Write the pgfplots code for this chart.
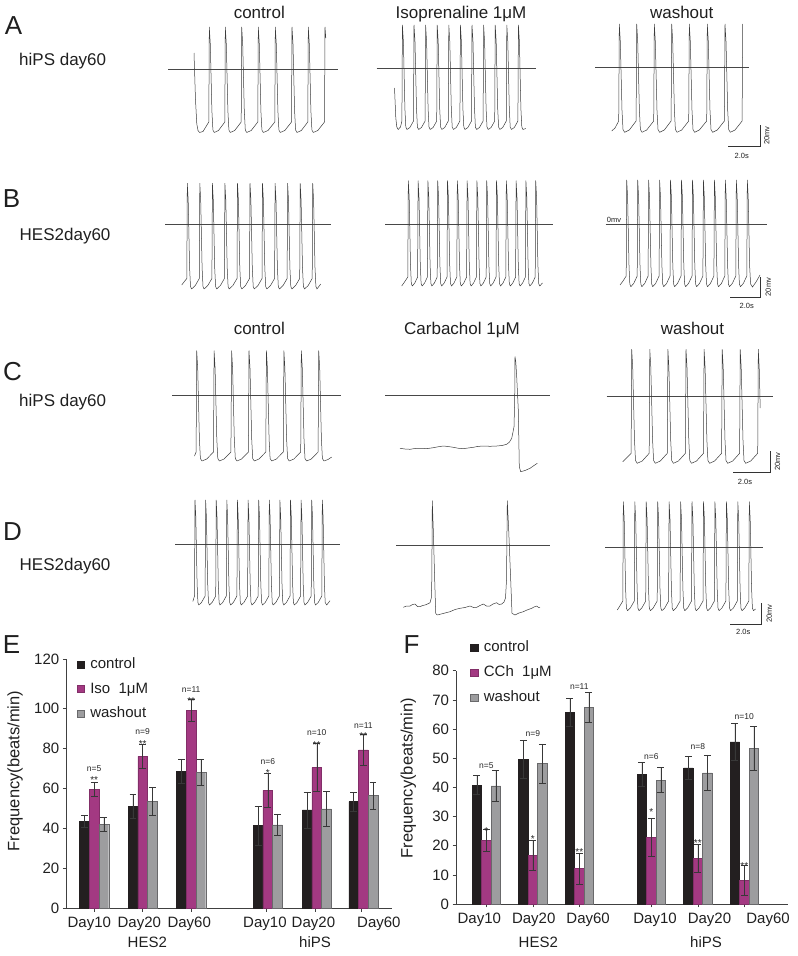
\documentclass[border=0pt]{standalone}
\usepackage{pgfplots}
\pgfplotsset{compat=1.18}
\usepackage{pgfplotstable}
\usepackage{fontspec}
\setmainfont{Liberation Sans}
\definecolor{cblack}{RGB}{35,31,32}
\definecolor{cmag}{RGB}{163,57,130}
\definecolor{cgrey}{RGB}{157,157,159}
\definecolor{cedge}{RGB}{105,105,107}
\definecolor{ctrace}{RGB}{60,60,60}
\newcommand{\fTitle}{\fontsize{17}{20}\selectfont}
\newcommand{\fPanel}{\fontsize{26}{30}\selectfont}
\newcommand{\fTick}{\fontsize{15}{18}\selectfont}
\newcommand{\fSmall}{\fontsize{7.5}{9}\selectfont}
\newcommand{\fN}{\fontsize{8.5}{10}\selectfont}
\newcommand{\fA}{\fontsize{10}{11}\selectfont}
\pgfplotstableread{
x y e
0 43.5 3
1 51 5.8
2 68.5 5.8
3.58 41.3 9.8
4.59 49.2 9
5.55 53.3 4.8
}\Econtrol
\pgfplotstableread{
x y e
0 59.5 3.5
1 76 6
2 99 5.4
3.58 59 8.7
4.59 70.3 12
5.55 79.2 7.7
}\Eiso
\pgfplotstableread{
x y e
0 42 3.3
1 53.5 7
2 68 6.5
3.58 41.7 5.4
4.59 49.7 8.8
5.55 56.3 6.9
}\Ewash
\pgfplotstableread{
x y e
0 40.8 3.2
1 49.7 6.5
2 65.8 4.7
3.55 44.5 4
4.55 46.7 4
5.55 55.6 6.3
}\Fcontrol
\pgfplotstableread{
x y e
0 21.9 3.7
1 16.6 5.1
2 12.2 5.3
3.55 22.9 6.4
4.55 15.7 4.9
5.55 8.2 5.1
}\Fcch
\pgfplotstableread{
x y e
0 40.5 5.4
1 48.2 6.7
2 67.4 5.1
3.55 42.5 4.3
4.55 45 6.1
5.55 53.4 7.5
}\Fwash
\pgfplotsset{
 trace/.style={color=ctrace, line width=0.5pt, mark=none, line join=round},
 zline/.style={color=black!72, line width=0.5pt, mark=none},
 sbar/.style={color=black!80, line width=0.6pt, mark=none},
 sqleg/.style={legend image code/.code={\draw[##1] (0pt,-3.6pt) rectangle (7.2pt,3.6pt); \path (11.5pt,0pt);}},
 barchart/.style={
  scale only axis, axis x line*=bottom, axis y line*=left,
  axis line style={line width=0.5pt, color=black!75},
  tick style={color=black!75, line width=0.5pt},
  major tick length=3.5pt, tick align=outside,
  ybar=0pt, ymin=0,
  ticklabel style={font=\fTick, text=black!88},
  xticklabels={},
  extra x tick style={major tick length=0pt, xticklabel style={yshift=-5pt}},
  ylabel style={font=\fontsize{16.5}{18}\selectfont, text=black!88, anchor=center},
  legend cell align=left,
  legend style={draw=none, fill=none, font=\fTick, text=black!88, inner sep=0pt, row sep=7.6pt,
    nodes={inner sep=1.5pt, text height=11pt, text depth=3pt}},
 },
 errs/.style={error bars/.cd, y dir=both, y explicit,
   error bar style={color=black!78, line width=0.55pt},
   error mark options={rotate=90, color=black!78, line width=0.55pt, mark size=3.4pt}},
}
\begin{document}
\begin{tikzpicture}
\useasboundingbox (0,0) rectangle (798pt,956pt);
\begin{axis}[at={(0pt,0pt)}, anchor=south west, scale only axis, width=798pt, height=956pt,
 xmin=0, xmax=798, ymin=0, ymax=956, y dir=reverse, hide axis, clip=false]
% ---------- zero lines
\addplot[zline] coordinates {(168,69) (338,69)};
\addplot[zline] coordinates {(376.7,68.3) (535.7,68.3)};
\addplot[zline] coordinates {(595,67.3) (749.3,67.3)};
\addplot[zline] coordinates {(165,224) (330.7,224)};
\addplot[zline] coordinates {(385,224) (553.3,224)};
\addplot[zline] coordinates {(605.7,224.3) (767.3,224.3)};
\addplot[zline] coordinates {(172.3,395) (340.7,395)};
\addplot[zline] coordinates {(385,395) (550,395)};
\addplot[zline] coordinates {(606.7,396) (772.7,396)};
\addplot[zline] coordinates {(175,544) (340,544)};
\addplot[zline] coordinates {(396,545) (550,545)};
\addplot[zline] coordinates {(605,547.3) (763.3,547.3)};
% ---------- A control
\addplot[trace] coordinates {
(194,53) (195.5,100) (196.8,124) (198,130.5) (199.5,132.5) (203,131.5) (208.8,122)
(209.3,27) (210.3,44) (211.9,111) (212.9,130) (214.3,132.5) (218.5,130.5) (224.8,122)
(225.3,27) (226.3,44) (227.9,111) (228.9,130) (230.3,132.5) (234.7,130.5) (241.2,122)
(241.7,27) (242.7,44) (244.3,111) (245.3,130) (246.7,132.5) (251.2,130.5) (257.8,122)
(258.3,27) (259.3,44) (260.9,111) (261.9,130) (263.3,132.5) (268,130.5) (274.8,122)
(275.3,27) (276.3,44) (277.9,111) (278.9,130) (280.3,132.5) (284.8,130.5) (291.5,122)
(292,27) (293,44) (294.6,111) (295.6,130) (297,132.5) (301.3,130.5) (307.8,122)
(308.3,27) (309.3,44) (310.9,111) (311.9,130) (313.3,132.5) (317.8,130.5) (324.5,122)
(325,27) (325.8,38)};
% ---------- A isoprenaline
\addplot[trace] coordinates {
(394.5,88) (395.8,118) (396.8,127) (398.2,129.5) (400.5,127) (401.9,121)
(402.4,25) (403.4,41.7) (404.9,108.6) (405.8,127) (407,129.5) (409.9,127.5) (413.5,121)
(414,25) (415,41.7) (416.5,108.6) (417.4,127) (418.6,129.5) (421.5,127.5) (425.1,121)
(425.6,25) (426.6,41.7) (428.1,108.6) (429,127) (430.2,129.5) (433.1,127.5) (436.7,121)
(437.2,25) (438.2,41.7) (439.7,108.6) (440.6,127) (441.8,129.5) (444.7,127.5) (448.3,121)
(448.8,25) (449.8,41.7) (451.3,108.6) (452.2,127) (453.4,129.5) (456.3,127.5) (459.9,121)
(460.4,25) (461.4,41.7) (462.9,108.6) (463.8,127) (465,129.5) (467.9,127.5) (471.5,121)
(472,25) (473,41.7) (474.5,108.6) (475.4,127) (476.6,129.5) (479.5,127.5) (483.1,121)
(483.6,25) (484.6,41.7) (486.1,108.6) (487,127) (488.2,129.5) (491.1,127.5) (494.7,121)
(495.2,25) (496.2,41.7) (497.7,108.6) (498.6,127) (499.8,129.5) (502.7,127.5) (506.3,121)
(506.8,25) (507.8,41.7) (509.3,108.6) (510.2,127) (511.4,129.5) (514.3,127.5) (517.9,121)
(518.4,25) (519.4,41.7) (520.9,108.6) (521.8,127) (523,129.5) (525.8,128.5)};
% ---------- A washout
\addplot[trace] coordinates {
(611.7,131) (615,128) (618.7,121)
(619.3,24) (620.3,41.3) (622,110.6) (623,129.5) (624.6,132.3) (629.3,130) (636.1,121)
(636.7,24) (637.7,41.3) (639.4,110.6) (640.4,129.5) (642,132.3) (646.7,130) (653.7,121)
(654.3,24) (655.3,41.3) (657,110.6) (658,129.5) (659.6,132.3) (664.3,130) (671.1,121)
(671.7,24) (672.7,41.3) (674.4,110.6) (675.4,129.5) (677,132.3) (681.7,130) (688.7,121)
(689.3,24) (690.3,41.3) (692,110.6) (693,129.5) (694.6,132.3) (699.3,130) (706.7,121)
(707.3,24) (708.3,41.3) (710,110.6) (711,129.5) (712.6,132.3) (717.3,130) (724.4,121)
(725,24) (726,41.3) (727.7,110.6) (728.7,129.5) (730.3,132.3) (735,130) (742.1,121)
(742.7,24)};
% ---------- B control
\addplot[trace] coordinates {
(181.7,285) (184,282) (186.8,278.5)
(187.3,183.3) (188.2,200.2) (189.6,267.9) (190.5,286.5) (191.6,289) (195.3,285.5) (199.3,278.5)
(199.8,183.3) (200.7,200.2) (202.1,267.9) (203,286.5) (204.1,289) (207.8,285.5) (211.9,278.5)
(212.4,183.3) (213.3,200.2) (214.7,267.9) (215.6,286.5) (216.7,289) (220.4,285.5) (224.4,278.5)
(224.9,183.3) (225.8,200.2) (227.2,267.9) (228.1,286.5) (229.2,289) (232.9,285.5) (237,278.5)
(237.5,183.3) (238.4,200.2) (239.8,267.9) (240.7,286.5) (241.8,289) (245.5,285.5) (249.5,278.5)
(250,183.3) (250.9,200.2) (252.3,267.9) (253.2,286.5) (254.3,289) (258,285.5) (262,278.5)
(262.5,183.3) (263.4,200.2) (264.8,267.9) (265.7,286.5) (266.8,289) (270.5,285.5) (274.6,278.5)
(275.1,183.3) (276,200.2) (277.4,267.9) (278.3,286.5) (279.4,289) (283.1,285.5) (287.1,278.5)
(287.6,183.3) (288.5,200.2) (289.9,267.9) (290.8,286.5) (291.9,289) (295.6,285.5) (299.7,278.5)
(300.2,183.3) (301.1,200.2) (302.5,267.9) (303.4,286.5) (304.5,289) (308.2,285.5) (312.2,278.5)
(312.7,183.3) (313.6,200.2) (315,267.9) (315.9,286.5) (317,289) (320.7,284)};
% ---------- B isoprenaline
\addplot[trace] coordinates {
(401.7,286) (404.5,282) (407.8,277)
(408.3,180.7) (409.2,197.5) (410.5,265) (411.3,283.5) (412.3,286) (414.8,283) (417.6,277)
(418.1,180.7) (419,197.5) (420.3,265) (421.1,283.5) (422.1,286) (424.6,283) (427.4,277)
(427.9,180.7) (428.8,197.5) (430.1,265) (430.9,283.5) (431.9,286) (434.4,283) (437.2,277)
(437.7,180.7) (438.6,197.5) (439.9,265) (440.7,283.5) (441.7,286) (444.2,283) (447,277)
(447.5,180.7) (448.4,197.5) (449.7,265) (450.5,283.5) (451.5,286) (454,283) (456.8,277)
(457.3,180.7) (458.2,197.5) (459.5,265) (460.3,283.5) (461.3,286) (463.8,283) (466.6,277)
(467.1,180.7) (468,197.5) (469.3,265) (470.1,283.5) (471.1,286) (473.6,283) (476.4,277)
(476.9,180.7) (477.8,197.5) (479.1,265) (479.9,283.5) (480.9,286) (483.4,283) (486.2,277)
(486.7,180.7) (487.6,197.5) (488.9,265) (489.7,283.5) (490.7,286) (493.2,283) (496,277)
(496.5,180.7) (497.4,197.5) (498.7,265) (499.5,283.5) (500.5,286) (503,283) (505.8,277)
(506.3,180.7) (507.2,197.5) (508.5,265) (509.3,283.5) (510.3,286) (512.8,283) (515.6,277)
(516.1,180.7) (517,197.5) (518.3,265) (519.1,283.5) (520.1,286) (522.6,283) (525.4,277)
(525.9,180.7) (526.8,197.5) (528.1,265) (528.9,283.5) (529.9,286) (532.4,283) (535.2,277)
(535.7,180.7) (536.6,197.5) (537.9,265) (538.7,283.5) (539.7,286) (542.5,283)};
% ---------- B washout
\addplot[trace] coordinates {
(620,285) (623,281) (626.2,276)
(626.7,180) (627.6,197) (629,265.4) (629.8,284) (630.8,286.7) (633.7,283.5) (637.2,276)
(637.7,180) (638.6,197) (640,265.4) (640.8,284) (641.8,286.7) (644.7,283.5) (648.1,276)
(648.6,180) (649.5,197) (650.9,265.4) (651.7,284) (652.7,286.7) (655.6,283.5) (659.1,276)
(659.6,180) (660.5,197) (661.9,265.4) (662.7,284) (663.7,286.7) (666.6,283.5) (670,276)
(670.5,180) (671.4,197) (672.8,265.4) (673.6,284) (674.6,286.7) (677.5,283.5) (681,276)
(681.5,180) (682.4,197) (683.8,265.4) (684.6,284) (685.6,286.7) (688.5,283.5) (692,276)
(692.5,180) (693.4,197) (694.8,265.4) (695.6,284) (696.6,286.7) (699.5,283.5) (702.9,276)
(703.4,180) (704.3,197) (705.7,265.4) (706.5,284) (707.5,286.7) (710.4,283.5) (713.9,276)
(714.4,180) (715.3,197) (716.7,265.4) (717.5,284) (718.5,286.7) (721.4,283.5) (724.8,276)
(725.3,180) (726.2,197) (727.6,265.4) (728.4,284) (729.4,286.7) (732.3,283.5) (735.8,276)
(736.3,180) (737.2,197) (738.6,265.4) (739.4,284) (740.4,286.7) (743.3,283.5) (746.8,276)
(747.3,180) (748.2,197) (749.6,265.4) (750.6,284) (752.5,287) (756,282) (760,275)};
% ---------- C control
\addplot[trace] coordinates {
(194.5,456) (196.1,452)
(196.7,350.7) (197.7,368.3) (199.4,439) (200.4,458.5) (202,461) (206.7,459) (213.5,452)
(214.1,350.7) (215.1,368.3) (216.8,439) (217.8,458.5) (219.4,461) (224.1,459) (230.9,452)
(231.6,350.7) (232.6,368.3) (234.3,439) (235.3,458.5) (236.9,461) (241.6,459) (248.4,452)
(249,350.7) (250,368.3) (251.7,439) (252.7,458.5) (254.3,461) (259,459) (265.8,452)
(266.4,350.7) (267.4,368.3) (269.1,439) (270.1,458.5) (271.7,461) (276.4,459) (283.3,452)
(283.9,350.7) (284.9,368.3) (286.6,439) (287.6,458.5) (289.2,461) (293.9,459) (300.7,452)
(301.3,350.7) (302.3,368.3) (304,439) (305,458.5) (306.6,461) (311.3,459) (318.1,452)
(318.7,350.7) (319.7,368.3) (321.4,439) (322.4,458.5) (324,461) (328,459.5) (331.7,457)};
% ---------- C carbachol
\addplot[trace] coordinates {
(400,448.3) (405,449) (410,449.3) (415,448.5) (420,448.3) (427,448.6) (433.3,447.7) (438,446.8)
(443.3,446) (448,446.5) (453.3,447.3) (458,448.2) (463.3,448.7) (468,448) (473.3,447.3) (478,446.4)
(483.3,446) (490,446.3) (496.7,446) (502,445.5) (506.7,444.3) (509.5,442) (511.7,438.3) (513,432)
(514,426.7) (514.7,400) (515,356.7) (515.8,362) (516.7,376.7) (518.3,410) (519.3,466.7) (520.7,471.7)
(525,470.5) (530,468.3) (534,465.5) (537.3,463.3)};
% ---------- C washout
\addplot[trace] coordinates {
(622.7,461.7) (626.5,458) (631.1,453.3)
(631.7,349.3) (632.7,367.5) (634.5,440.5) (635.5,460.5) (637.2,463.3) (642.2,461) (649.2,453.3)
(649.8,349.3) (650.8,367.5) (652.6,440.5) (653.6,460.5) (655.3,463.3) (660.3,461) (667.3,453.3)
(667.9,349.3) (668.9,367.5) (670.7,440.5) (671.7,460.5) (673.4,463.3) (678.4,461) (685.4,453.3)
(686,349.3) (687,367.5) (688.8,440.5) (689.8,460.5) (691.5,463.3) (696.5,461) (703.5,453.3)
(704.1,349.3) (705.1,367.5) (706.9,440.5) (707.9,460.5) (709.6,463.3) (714.6,461) (721.6,453.3)
(722.2,349.3) (723.2,367.5) (725,440.5) (726,460.5) (727.7,463.3) (732.7,461) (739.6,453.3)
(740.2,349.3) (741.2,367.5) (743,440.5) (744,460.5) (745.7,463.3) (750.7,461) (757.7,453.3)
(758.3,349.3) (759.3,370) (760.2,408)};
% ---------- D control
\addplot[trace] coordinates {
(192.8,601.5) (194.5,596)
(195,500) (195.8,516.8) (197.1,584) (197.9,602.5) (198.8,605) (201.5,602.5) (205.1,596)
(205.6,500) (206.4,516.8) (207.7,584) (208.5,602.5) (209.4,605) (212.1,602.5) (215.7,596)
(216.2,500) (217,516.8) (218.3,584) (219.1,602.5) (220,605) (222.7,602.5) (226.3,596)
(226.8,500) (227.6,516.8) (228.9,584) (229.7,602.5) (230.6,605) (233.3,602.5) (236.9,596)
(237.4,500) (238.2,516.8) (239.5,584) (240.3,602.5) (241.2,605) (243.9,602.5) (247.6,596)
(248.1,500) (248.9,516.8) (250.2,584) (251,602.5) (251.9,605) (254.6,602.5) (258.2,596)
(258.7,500) (259.5,516.8) (260.8,584) (261.6,602.5) (262.5,605) (265.2,602.5) (268.8,596)
(269.3,500) (270.1,516.8) (271.4,584) (272.2,602.5) (273.1,605) (275.8,602.5) (279.4,596)
(279.9,500) (280.7,516.8) (282,584) (282.8,602.5) (283.7,605) (286.4,602.5) (290,596)
(290.5,500) (291.3,516.8) (292.6,584) (293.4,602.5) (294.3,605) (297,602.5) (300.6,596)
(301.1,500) (301.9,516.8) (303.2,584) (304,602.5) (304.9,605) (307.6,602.5) (311.2,596)
(311.7,500) (312.5,516.8) (313.8,584) (314.6,602.5) (315.5,605) (318.2,602.5) (321.8,596)
(322.3,500) (323.1,516.8) (324.4,584) (325.2,602.5) (326.7,605) (330,600.7)};
% ---------- D carbachol
\addplot[trace] coordinates {
(403.3,607.3) (406.5,606) (410,606) (412.5,604.5) (415,604) (417.5,606.5) (420,606.7) (422.5,605.5)
(425,605) (427.5,604) (430,602.7) (431.3,598) (431.8,580) (432.3,500.7) (433.3,530) (434.7,580)
(435.7,613.3) (437.3,615) (443,613.5) (450,611.7) (455,609.5) (460,608.3) (465,607.5) (470,606)
(473.5,607.5) (476.7,607.3) (480,605.5) (483.3,604) (486.5,606) (490,606) (493,604) (496.7,602.7)
(499,604.5) (501.7,604) (504,602) (505.5,598) (506.5,580) (507.3,500.7) (508.7,530) (510.7,580)
(512,613.3) (515,615) (519,613) (523.3,611.7) (527,610) (531.7,608.3) (534,607) (536.7,606)
(538.5,607.5) (540,607.3)};
% ---------- D washout
\addplot[trace] coordinates {
(617.3,610) (619.5,606.5) (622.8,601)
(623.3,501.7) (624.2,519.1) (625.6,588.9) (626.4,608) (627.5,610.7) (630.3,608) (634.3,601)
(634.8,501.7) (635.7,519.1) (637.1,588.9) (637.9,608) (639,610.7) (641.8,608) (645.7,601)
(646.2,501.7) (647.1,519.1) (648.5,588.9) (649.3,608) (650.4,610.7) (653.2,608) (657.2,601)
(657.7,501.7) (658.6,519.1) (660,588.9) (660.8,608) (661.9,610.7) (664.7,608) (668.6,601)
(669.1,501.7) (670,519.1) (671.4,588.9) (672.2,608) (673.3,610.7) (676.1,608) (680.1,601)
(680.6,501.7) (681.5,519.1) (682.9,588.9) (683.7,608) (684.8,610.7) (687.6,608) (691.5,601)
(692,501.7) (692.9,519.1) (694.3,588.9) (695.1,608) (696.2,610.7) (699,608) (703,601)
(703.5,501.7) (704.4,519.1) (705.8,588.9) (706.6,608) (707.7,610.7) (710.5,608) (714.4,601)
(714.9,501.7) (715.8,519.1) (717.2,588.9) (718,608) (719.1,610.7) (721.9,608) (725.9,601)
(726.4,501.7) (727.3,519.1) (728.7,588.9) (729.5,608) (730.6,610.7) (733.4,608) (737.3,601)
(737.8,501.7) (738.7,519.1) (740.1,588.9) (740.9,608) (742,610.7) (744.8,608) (748.8,601)
(749.3,501.7) (750.2,519.1) (751.6,588.9) (752.4,608) (753.5,610.7) (755.5,609)};
% ---------- scale bars
\addplot[sbar] coordinates {(728,146) (760,146) (760,125)};
\addplot[sbar] coordinates {(730,297.3) (760,297.3) (760,276.7)};
\addplot[sbar] coordinates {(733,472) (770,472) (770,451)};
\addplot[sbar] coordinates {(730,624) (761.7,624) (761.7,603.3)};
% ---------- texts
\begin{scope}[every node/.style={text=black!88, inner sep=0pt}]
\node[font=\fPanel] at (axis cs:13.5,26) {A};
\node[font=\fPanel] at (axis cs:11.5,199) {B};
\node[font=\fPanel] at (axis cs:12.5,371.7) {C};
\node[font=\fPanel] at (axis cs:12.5,532) {D};
\node[font=\fPanel] at (axis cs:11.5,645) {E};
\node[font=\fPanel] at (axis cs:411.5,645) {F};
\node[font=\fTitle, anchor=base west] at (axis cs:19,65.3) {hiPS day60};
\node[font=\fTitle, anchor=base west] at (axis cs:19.5,240) {HES2day60};
\node[font=\fTitle, anchor=base west] at (axis cs:19,406.7) {hiPS day60};
\node[font=\fTitle, anchor=base west] at (axis cs:19.5,570.7) {HES2day60};
\node[font=\fTitle, anchor=base] at (axis cs:259.3,18) {control};
\node[font=\fTitle, anchor=base] at (axis cs:461,18) {Isoprenaline 1μM};
\node[font=\fTitle, anchor=base] at (axis cs:681.7,18) {washout};
\node[font=\fTitle, anchor=base] at (axis cs:259.3,334) {control};
\node[font=\fTitle, anchor=base] at (axis cs:462,334) {Carbachol 1μM};
\node[font=\fTitle, anchor=base] at (axis cs:692.5,334) {washout};
\node[font=\fSmall] at (axis cs:614,220) {0mv};
\node[font=\fSmall] at (axis cs:741.7,155.5) {2.0s};
\node[font=\fSmall, rotate=90] at (axis cs:766.7,135.5) {20mv};
\node[font=\fSmall] at (axis cs:746.7,306) {2.0s};
\node[font=\fSmall, rotate=90] at (axis cs:768.3,287) {20mv};
\node[font=\fSmall] at (axis cs:745,482) {2.0s};
\node[font=\fSmall, rotate=90] at (axis cs:777.5,461.5) {20mv};
\node[font=\fSmall] at (axis cs:743.3,632) {2.0s};
\node[font=\fSmall, rotate=90] at (axis cs:769.3,613.5) {20mv};
\node[font=\fTick] at (axis cs:147.3,942) {HES2};
\node[font=\fTick] at (axis cs:315,942) {hiPS};
\node[font=\fTick] at (axis cs:538.3,942) {HES2};
\node[font=\fTick] at (axis cs:706,942) {hiPS};
\end{scope}
\end{axis}
% ================= E
\begin{axis}[barchart, at={(66.3pt,47.7pt)}, anchor=south west,
 width=325.7pt, height=249.3pt, xmin=-0.575, xmax=6.14, ymax=124.65, bar width=9.7pt,
 ytick={0,20,40,60,80,100,124.65}, yticklabels={0,20,40,60,80,100,120},
 xtick={0,1,2,3.55,4.55,5.5},
 extra x ticks={-0.1,0.93,1.96,3.52,4.52,5.87},
 extra x tick labels={Day10,Day20,Day60,Day10,Day20,Day60},
 ylabel={Frequency(beats/min)},
 ylabel style={at={(axis description cs:-0.1575,0.551)}},
 legend style={at={(axis description cs:0.032,1.013)}, anchor=north west},
 clip=false]
\addplot[fill=cblack, draw=cblack, line width=0.4pt, sqleg, errs]
 table[x=x, y=y, y error=e] {\Econtrol};
\addlegendentry{control}
\addplot[fill=cmag, draw=cmag!80!black, line width=0.4pt, sqleg, errs]
 table[x=x, y=y, y error=e] {\Eiso};
\addlegendentry{Iso\ \ 1μM}
\addplot[fill=cgrey, draw=cedge, line width=0.4pt, sqleg, errs]
 table[x=x, y=y, y error=e] {\Ewash};
\addlegendentry{washout}
\begin{scope}[every node/.style={font=\fN, text=black!85, inner sep=0pt}]
\node at (axis cs:0,69.8) {n=5};   \node[font=\fA, yshift=-3pt] at (axis cs:0,65.5) {**};
\node at (axis cs:1,88.5) {n=9};   \node[font=\fA, yshift=-3pt] at (axis cs:1,83.5) {**};
\node at (axis cs:2,109.3) {n=11}; \node[font=\fA, yshift=-3pt] at (axis cs:2,105.3) {**};
\node at (axis cs:3.58,73.5) {n=6}; \node[font=\fA, yshift=-3pt] at (axis cs:3.58,69.2) {*};
\node at (axis cs:4.59,87.8) {n=10}; \node[font=\fA, yshift=-3pt] at (axis cs:4.59,83.3) {**};
\node at (axis cs:5.55,91.5) {n=11}; \node[font=\fA, yshift=-3pt] at (axis cs:5.55,87.8) {**};
\end{scope}
\end{axis}
% ================= F
\begin{axis}[barchart, at={(456pt,52pt)}, anchor=south west,
 width=332pt, height=233.3pt, xmin=-0.652, xmax=6.49, ymax=80, bar width=9.5pt,
 ytick={0,10,20,30,40,50,60,70,80}, yticklabels={0,10,20,30,40,50,60,70,80},
 xtick={0,1,2,3.55,4.55,5.55},
 extra x ticks={-0.15,1.02,2.19,3.63,4.8,6.06},
 extra x tick labels={Day10,Day20,Day60,Day10,Day20,Day60},
 ylabel={Frequency(beats/min)},
 ylabel style={at={(axis description cs:-0.1437,0.539)}},
 legend style={at={(axis description cs:0.043,1.137)}, anchor=north west, row sep=8.2pt},
 clip=false]
\addplot[fill=cblack, draw=cblack, line width=0.4pt, sqleg, errs]
 table[x=x, y=y, y error=e] {\Fcontrol};
\addlegendentry{control}
\addplot[fill=cmag, draw=cmag!80!black, line width=0.4pt, sqleg, errs]
 table[x=x, y=y, y error=e] {\Fcch};
\addlegendentry{CCh\ \ 1μM}
\addplot[fill=cgrey, draw=cedge, line width=0.4pt, sqleg, errs]
 table[x=x, y=y, y error=e] {\Fwash};
\addlegendentry{washout}
\begin{scope}[every node/.style={font=\fN, text=black!85, inner sep=0pt}]
\node at (axis cs:0,47.4) {n=5};    \node[font=\fA, yshift=-3pt] at (axis cs:0,26.2) {*};
\node at (axis cs:1,58.5) {n=9};    \node[font=\fA, yshift=-3pt] at (axis cs:1,23.4) {*};
\node at (axis cs:2,74.5) {n=11};   \node[font=\fA, yshift=-3pt] at (axis cs:2,18.9) {**};
\node at (axis cs:3.55,50.5) {n=6}; \node[font=\fA, yshift=-3pt] at (axis cs:3.55,32.5) {*};
\node at (axis cs:4.55,53.9) {n=8}; \node[font=\fA, yshift=-3pt] at (axis cs:4.55,21.9) {**};
\node at (axis cs:5.55,64.4) {n=10}; \node[font=\fA, yshift=-3pt] at (axis cs:5.55,14.2) {**};
\end{scope}
\end{axis}
\end{tikzpicture}
\end{document}
